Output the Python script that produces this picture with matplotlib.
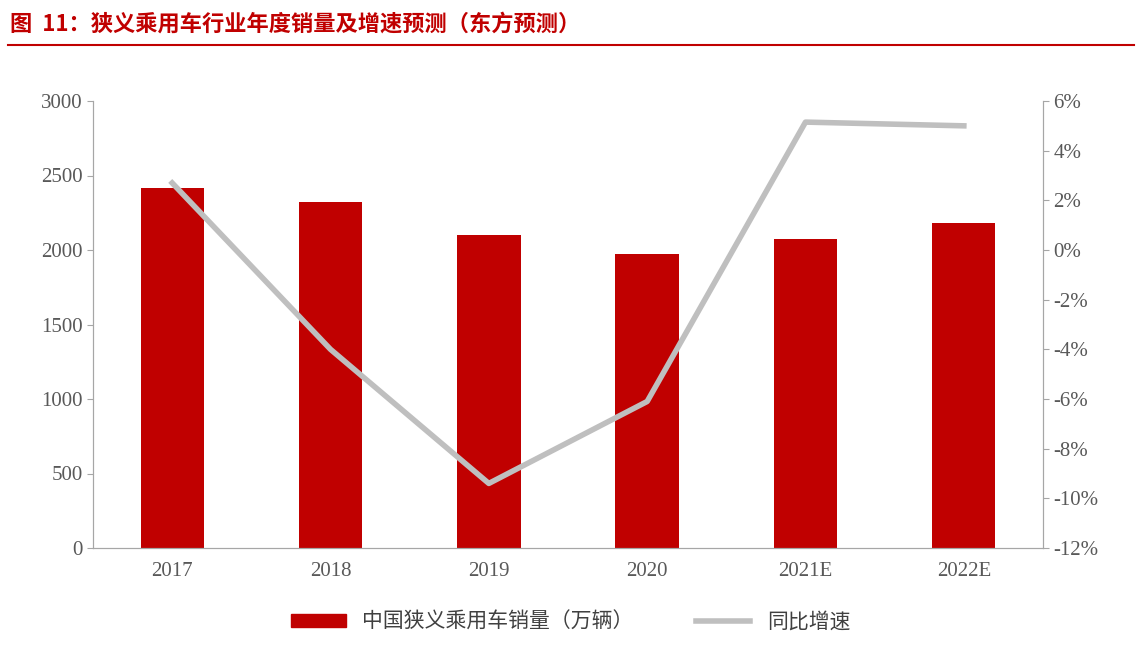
import matplotlib
matplotlib.use("Agg")
import matplotlib.pyplot as plt
from matplotlib.ticker import FuncFormatter
from matplotlib.lines import Line2D

plt.rcParams['font.family'] = ['Liberation Serif', 'Noto Sans CJK SC']

years = ["2017", "2018", "2019", "2020", "2021E", "2022E"]
sales = [2418, 2320, 2100, 1975, 2075, 2180]
growth = [2.7, -4.0, -9.4, -6.1, 5.15, 5.0]

RED = "#c00000"
GRAY = "#bfbfbf"
AX = "#a6a6a6"

fig = plt.figure(figsize=(11.42, 6.60), dpi=100)
ax = fig.add_axes([93/1142, 1-548/660, 950/1142, 447/660])
x = range(len(years))
ax.bar(x, sales, width=0.4, color=RED, zorder=2)
ax.set_ylim(0, 3000)
ax.set_yticks(range(0, 3001, 500))
ax.set_xlim(-0.5, 5.5)
ax.set_xticks(list(x))
ax.set_xticklabels(years)

ax2 = ax.twinx()
ax2.plot(x, growth, color=GRAY, lw=4, zorder=3)
ax2.set_ylim(-12, 6)
ax2.set_yticks(range(-12, 7, 2))
ax2.yaxis.set_major_formatter(FuncFormatter(lambda v, p: f"{int(v)}%"))

for a in (ax, ax2):
    for s in ("top",):
        a.spines[s].set_visible(False)
    for s in ("left", "right", "bottom"):
        a.spines[s].set_color(AX)
    a.tick_params(colors="#595959", labelsize=15, color=AX, length=4)
ax.tick_params(axis="x", length=0, pad=10)

handles = [plt.Rectangle((0, 0), 1, 1, color=RED),
           Line2D([0], [0], color=GRAY, lw=4)]
fig.legend(handles, ["中国狭义乘用车销量（万辆）", "同比增速"],
           loc="center", bbox_to_anchor=(0.5, 1-622/660), ncol=2, frameon=False,
           prop={"family": ["Noto Sans CJK SC"], "size": 15},
           handlelength=2.6, handleheight=0.6, columnspacing=3,
           labelcolor="#404040")

fig.text(10/1142, 1-24/660, "图  11：狭义乘用车行业年度销量及增速预测（东方预测）",
         color=RED, fontsize=16, fontweight="bold", va="center",
         family=["Noto Sans CJK SC"])
fig.add_artist(Line2D([8/1142, 1134/1142], [1-45/660, 1-45/660], color=RED, lw=1.5))

fig.savefig("out.png", dpi=100)
